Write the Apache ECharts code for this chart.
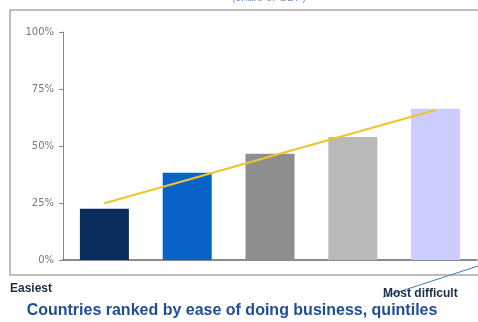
<!DOCTYPE html>
<html><head><meta charset="utf-8">
<script src="https://cdn.jsdelivr.net/npm/echarts@6/dist/echarts.min.js"></script>
<style>html,body{margin:0;padding:0;background:#fff}#c{width:478px;height:322px}</style>
</head><body><div id="c"></div>
<script>
const categories = ['Q1','Q2','Q3','Q4','Q5'];
const barValues = [22.5, 38.3, 46.6, 54.0, 66.3];
const trendValues = [24.9, 35.1, 45.4, 55.6, 65.8];
const barColors = ['#0b2d5e','#0863c8','#8e8e8e','#b9b9b9','#ccccff'];
const yTicks = [0, 25, 50, 75, 100];

const chart = echarts.init(document.getElementById('c'));
chart.setOption({
  animation: false,
  grid: {left: 63, right: 1, top: 32, bottom: 62},
  xAxis: {
    type: 'category', data: categories, boundaryGap: true,
    axisLine: {lineStyle: {color: '#666', width: 1.5}},
    axisTick: {show: false}, axisLabel: {show: false}
  },
  yAxis: {
    type: 'value', min: yTicks[0], max: yTicks[yTicks.length-1], interval: 25,
    axisLine: {show: true, lineStyle: {color: '#888'}},
    axisTick: {show: true, length: 4, lineStyle: {color: '#888'}},
    splitLine: {show: false},
    axisLabel: {formatter: '{value}%', fontSize: 10, color: '#777', fontFamily: 'DejaVu Sans', margin: 9}
  },
  series: [
    {type: 'bar', barWidth: 49, data: barValues.map((v,i)=>({value: v, itemStyle: {color: barColors[i]}}))},
    {type: 'line', data: trendValues, symbol: 'none', lineStyle: {color: '#f0c42a', width: 2}, z: 5}
  ],
  graphic: [
    {type: 'rect', shape: {x: 10, y: 10, width: 480, height: 265}, style: {fill: 'none', stroke: '#aaa', lineWidth: 1.5}, silent: true},
    {type: 'text', x: 269, y: -8, style: {text: '(share of GDP)', fill: '#6a9ad6', font: '11px "Liberation Sans"', textAlign: 'center'}},
    {type: 'text', x: 10, y: 283, style: {text: 'Easiest', fill: '#1c2e4a', font: 'bold 12px "Liberation Sans"'}},
    {type: 'line', shape: {x1: 383, y1: 297, x2: 478, y2: 266}, style: {stroke: '#3a7fc0', lineWidth: 1}},
    {type: 'text', x: 383, y: 288, style: {text: 'Most difficult', fill: '#1c2e4a', font: 'bold 12px "Liberation Sans"'}},
    {type: 'text', x: 232, y: 303, style: {text: 'Countries ranked by ease of doing business, quintiles', fill: '#1f4e96', font: 'bold 16px "Liberation Sans"', textAlign: 'center'}}
  ]
});
</script></body></html>
